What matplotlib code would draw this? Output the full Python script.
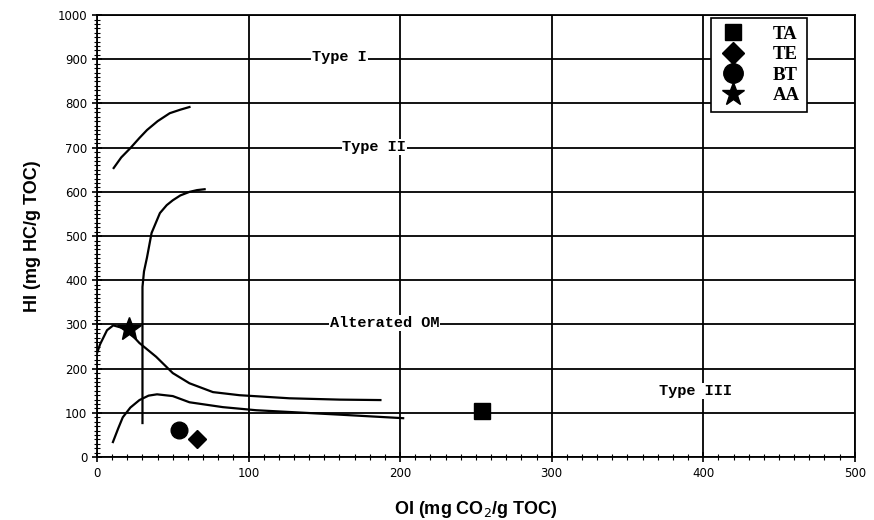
import matplotlib
matplotlib.use("Agg")
import matplotlib.pyplot as plt
from matplotlib.ticker import MultipleLocator

# Boundary curves (OI, HI)
type1_oi = [11, 16, 22, 28, 33, 40, 48, 55, 61]
type1_hi = [654, 678, 699, 722, 740, 760, 778, 786, 792]

type2_oi = [30, 30, 30, 31, 33, 36, 41.5, 46, 50, 55, 61, 66, 71]
type2_hi = [77, 200, 385, 420, 452, 507, 552, 570, 581, 592, 600, 604, 606]

alt_oi = [0, 2, 6.6, 10.7, 17, 22, 28, 39, 50, 61, 76.5, 94, 127, 160, 187]
alt_hi = [235, 255, 287, 298, 292, 280, 258, 227, 190, 167, 147, 140, 133, 130, 129]

type3_oi = [10.5, 14, 17, 22, 28, 34, 39.6, 50, 61, 83, 105, 127, 160, 202]
type3_hi = [34, 65, 90, 112, 129, 139, 142, 138, 124, 113, 106, 102, 96, 88]

# Samples
samples = ["TA", "TE", "BT", "AA"]
sample_oi = [254, 66, 54, 21]
sample_hi = [104, 42, 61, 289]
markers = ["s", "D", "o", "*"]
msizes = [11, 9, 12, 18]

# Region labels
region_labels = ["Type I", "Type II", "Alterated OM", "Type III"]
region_oi = [160, 183, 190, 395]
region_hi = [905, 701, 303, 149]

fig = plt.figure(figsize=(8.74, 5.2), dpi=100)
ax = fig.add_axes([0.111, 0.121, 0.867, 0.850])

ax.set_xlim(0, 500)
ax.set_ylim(0, 1000)
ax.xaxis.set_major_locator(MultipleLocator(100))
ax.yaxis.set_major_locator(MultipleLocator(100))
ax.xaxis.set_minor_locator(MultipleLocator(10))
ax.yaxis.set_minor_locator(MultipleLocator(10))
ax.grid(True, which="major", color="black", linewidth=1.3, zorder=0)
ax.set_axisbelow(True)
for s in ax.spines.values():
    s.set_linewidth(1.3)
ax.tick_params(which="major", direction="inout", length=7, width=1.2,
               labelsize=8.5)
ax.tick_params(which="minor", direction="inout", length=4, width=0.8)

for oi, hi in [(type1_oi, type1_hi), (type2_oi, type2_hi),
               (alt_oi, alt_hi), (type3_oi, type3_hi)]:
    ax.plot(oi, hi, color="black", linewidth=1.6, zorder=3)

for lab, x, y in zip(region_labels, region_oi, region_hi):
    ax.text(x, y, lab, fontfamily="Liberation Mono", fontweight="bold",
            fontsize=11, ha="center", va="center", zorder=4,
            bbox=dict(facecolor="white", edgecolor="none", pad=0.5))

handles = []
for name, x, y, m, ms in zip(samples, sample_oi, sample_hi, markers, msizes):
    h, = ax.plot([x], [y], linestyle="none", marker=m, markersize=ms,
                 color="black", label=name, zorder=5)
    handles.append(h)

leg = ax.legend(handles=handles, loc="upper right",
                bbox_to_anchor=(0.937, 0.993), frameon=True, fancybox=False,
                edgecolor="black", framealpha=1,
                prop=dict(family="Liberation Serif", weight="bold", size=13.5),
                labelspacing=0.18, handletextpad=1.3, borderpad=0.4,
                handlelength=1.6, borderaxespad=0.0)
leg.get_frame().set_linewidth(1.2)
leg_ms = [12, 11, 14, 17]
for h, ms in zip(leg.legend_handles, leg_ms):
    h.set_markersize(ms)

ax.set_xlabel("OI (mg CO$_2$/g TOC)", fontfamily="Liberation Sans",
              fontweight="bold", fontsize=13, labelpad=14)
ax.set_ylabel("HI (mg HC/g TOC)", fontfamily="Liberation Sans",
              fontweight="bold", fontsize=13, labelpad=12)

fig.savefig("out.png", dpi=100)
